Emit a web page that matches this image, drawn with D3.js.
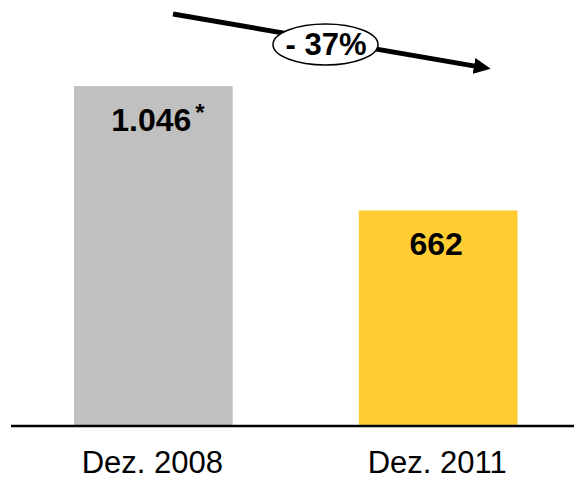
<!DOCTYPE html>
<html>
<head>
<meta charset="utf-8">
<script src="https://cdn.jsdelivr.net/npm/d3@7"></script>
<style>
  body { margin: 0; background: #fff; }
  svg { display: block; font-family: Arial, "Liberation Sans", sans-serif; }
</style>
</head>
<body>
<svg id="drawing_region" width="574" height="479"></svg>
<script>
// Werte aus der Grafik
var categories = ['Dez. 2008', 'Dez. 2011'];
var values = [1046, 662];
var notes = ['*', ''];
var colors = ['#c0c0c0', '#ffcc33'];

var svg = d3.select('#drawing_region');

var locale = d3.formatLocale({ decimal: ',', thousands: '.', grouping: [3], currency: ['', '€'] });
var fmt = locale.format(',d');

var baseline = 426;

var x = d3.scaleBand()
    .domain(categories)
    .range([74, 517.5])
    .paddingInner(0.443)
    .paddingOuter(0);

var y = d3.scaleLinear()
    .domain([0, d3.max(values)])
    .range([baseline - 1, 86]);

var data = categories.map((c, i) => ({ cat: c, value: values[i], note: notes[i], color: colors[i] }));

// bars
svg.selectAll('rect.bar')
    .data(data)
    .join('rect')
    .attr('class', 'bar')
    .attr('x', d => x(d.cat))
    .attr('y', d => y(d.value))
    .attr('width', x.bandwidth())
    .attr('height', d => y(0) - y(d.value))
    .attr('fill', d => d.color);

// baseline
svg.append('line')
    .attr('x1', 11).attr('x2', 574)
    .attr('y1', baseline).attr('y2', baseline)
    .attr('stroke', '#000')
    .attr('stroke-width', 2.5);

// category labels
svg.selectAll('text.cat')
    .data(data)
    .join('text')
    .attr('class', 'cat')
    .attr('x', d => x(d.cat) + x.bandwidth() / 2 - 1)
    .attr('y', 473)
    .attr('text-anchor', 'middle')
    .attr('font-size', 31)
    .text(d => d.cat);

// value labels
svg.selectAll('text.val')
    .data(data)
    .join('text')
    .attr('class', 'val')
    .attr('x', d => x(d.cat) + x.bandwidth() / 2 - 2)
    .attr('y', d => y(d.value) + 45)
    .attr('text-anchor', 'middle')
    .attr('font-size', 32)
    .attr('font-weight', 'bold')
    .text(d => fmt(d.value));

svg.selectAll('text.note')
    .data(data.filter(d => d.note))
    .join('text')
    .attr('class', 'note')
    .attr('x', d => x(d.cat) + x.bandwidth() / 2 + 42)
    .attr('y', d => y(d.value) + 35)
    .attr('font-size', 24)
    .attr('font-weight', 'bold')
    .text(d => d.note);

// trend arrow
svg.append('defs').append('marker')
    .attr('id', 'head')
    .attr('markerUnits', 'userSpaceOnUse')
    .attr('viewBox', '0 -9 18 18')
    .attr('refX', 1)
    .attr('refY', 0)
    .attr('markerWidth', 18)
    .attr('markerHeight', 18)
    .attr('orient', 'auto')
    .append('path')
    .attr('d', 'M0,-8L17,0L0,8Z')
    .attr('fill', '#000');

svg.append('line')
    .attr('x1', 173).attr('y1', 14)
    .attr('x2', 475).attr('y2', 66.1)
    .attr('stroke', '#000')
    .attr('stroke-width', 5)
    .attr('marker-end', 'url(#head)');

var change = Math.round((values[1] - values[0]) / values[0] * 100);

svg.append('ellipse')
    .attr('cx', 325.5).attr('cy', 44.5)
    .attr('rx', 52.5).attr('ry', 20.5)
    .attr('fill', '#fff')
    .attr('stroke', '#000')
    .attr('stroke-width', 1.5);

svg.append('text')
    .attr('x', 326)
    .attr('y', 54.5)
    .attr('text-anchor', 'middle')
    .attr('font-size', 31)
    .attr('font-weight', 'bold')
    .text('- ' + Math.abs(change) + '%');
</script>
</body>
</html>
